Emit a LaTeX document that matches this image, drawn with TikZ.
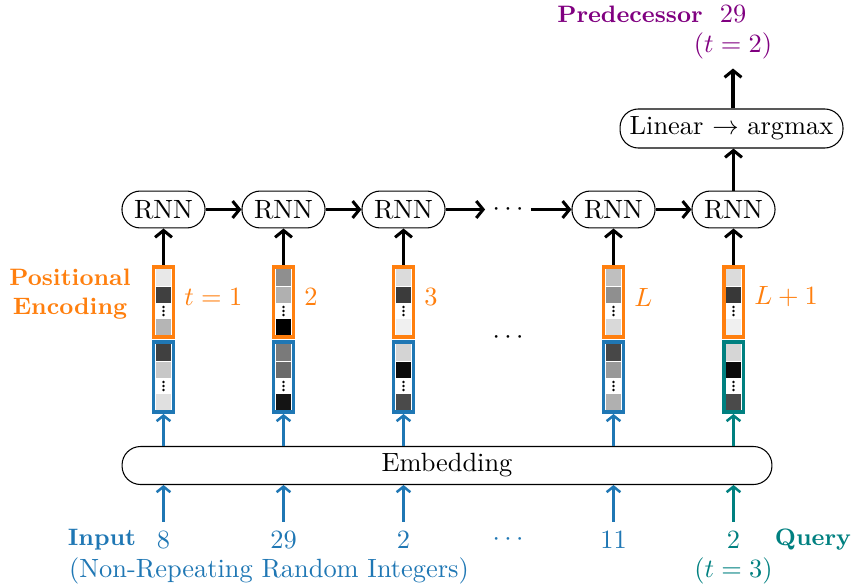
\documentclass[tikz,border=0pt]{standalone}
\usetikzlibrary{arrows.meta,calc}
\definecolor{tabblue}{RGB}{31,119,180}
\definecolor{taborange}{RGB}{255,127,14}
\definecolor{qteal}{RGB}{0,128,128}
\definecolor{predpurple}{RGB}{128,0,128}
\newcommand\vcol[7]{%
  \node[vbox, draw=#4] (#1) at (#2,#3) {};
  \begin{scope}[shift={(#2,#3)}]
    \fill[#5] (-7.5,-33) rectangle (7.5,-16.5);
    \fill[#6] (-7.5,-15.5) rectangle (7.5,1);
    \fill[#7] (-7.5,17) rectangle (7.5,33);
    \fill (0,5) circle[radius=0.5pt] (0,9) circle[radius=0.5pt] (0,13) circle[radius=0.5pt];
  \end{scope}}
\begin{document}
\begin{tikzpicture}[x=0.379pt,y=-0.379pt,
  pill/.style={rectangle, rounded corners=7pt, draw, line width=0.4pt, inner sep=0pt},
  rnnbox/.style={pill, minimum width=31.5pt, minimum height=14pt},
  vbox/.style={rectangle, inner sep=0pt, minimum width=7.4pt, minimum height=26.7pt, line width=1.33pt},
  blk/.style={-{Straight Barb[length=2.6pt,width=6.4pt]}, line width=1.15pt},
  bla/.style={-{Straight Barb[length=2.1pt,width=5.2pt]}, line width=0.95pt, tabblue},
  tea/.style={-{Straight Barb[length=2.1pt,width=5.2pt]}, line width=0.95pt, qteal},
  lab/.style={font=\small\bfseries},
  pelab/.style={text=taborange, anchor=west},
]
\useasboundingbox (0,0) rectangle (852,587);

% RNN row
\node[rnnbox] (r1) at (163.5,209.5) {RNN};
\node[rnnbox] (r2) at (283.5,209.5) {RNN};
\node[rnnbox] (r3) at (403.5,209.5) {RNN};
\node[inner xsep=2.65pt, inner ysep=0pt] (rd) at (508,209.5) {$\cdots$};
\node[rnnbox] (rL) at (613.5,209.5) {RNN};
\node[rnnbox] (rL1) at (733.5,209.5) {RNN};
\draw[blk] (r1) -- (r2);
\draw[blk] (r2) -- (r3);
\draw[blk] (r3) -- (rd);
\draw[blk] (rd) -- (rL);
\draw[blk] (rL) -- (rL1);

% Linear and output
\node[pill, minimum width=84.5pt, minimum height=14.8pt] (lin) at (731.5,128.5) {Linear $\rightarrow$ argmax};
\node[text=predpurple] (p29) at (733,14) {29};
\node[text=predpurple] (pt2) at (733,46) {$(t=2)$};
\node[lab, text=predpurple] (pred) at (630,14) {Predecessor};
\draw[blk] (rL1) -- (rL1 |- lin.south);
\draw[blk] (pt2 |- lin.north) -- (pt2.south);

% vectors
\vcol{pe1}{163.5}{302}{taborange}{black!9}{black!75}{black!29}
\vcol{em1}{163.5}{377}{tabblue}{black!75}{black!22}{black!12}
\vcol{pe2}{283.5}{302}{taborange}{black!44}{black!31}{black}
\vcol{em2}{283.5}{377}{tabblue}{black!52}{black!58}{black!92}
\vcol{pe3}{403.5}{302}{taborange}{black!14}{black!77}{black!6}
\vcol{em3}{403.5}{377}{tabblue}{black!17}{black!96}{black!71}
\vcol{peL}{613.5}{302}{taborange}{black!25}{black!44}{black!15}
\vcol{emL}{613.5}{377}{tabblue}{black!72}{black!40}{black!31}
\vcol{peL1}{733.5}{302}{taborange}{black!14}{black!78}{black!6}
\vcol{emL1}{733.5}{377}{qteal}{black!16}{black!96}{black!71}

\draw[blk] (pe1) -- (r1);
\draw[blk] (pe2) -- (r2);
\draw[blk] (pe3) -- (r3);
\draw[blk] (peL) -- (rL);
\draw[blk] (peL1) -- (rL1);

\node[pelab] (t1) at ([yshift=1.9pt]pe1.east) {$t=1$};
\node[pelab] (t2) at ([yshift=1.9pt]pe2.east) {$2$};
\node[pelab] (t3) at ([yshift=1.9pt]pe3.east) {$3$};
\node[pelab] (tL) at ([yshift=1.9pt]peL.east) {$L$};
\node[pelab] (tL1) at ([yshift=1.9pt]peL1.east) {$L+1$};
\node[lab, text=taborange, align=center] (pos) at (70,294.5) {Positional\\Encoding};
\node (md) at (508,338) {$\cdots$};

% Embedding
\node[pill, minimum width=246.3pt, minimum height=14.4pt] (emb) at (447,465.5) {Embedding};
\draw[bla] (emb.north -| em1) -- (em1.south);
\draw[bla] (emb.north -| em2) -- (em2.south);
\draw[bla] (emb.north -| em3) -- (em3.south);
\draw[bla] (emb.north -| emL) -- (emL.south);
\draw[tea] (emb.north -| emL1) -- (emL1.south);

% inputs
\node[text=tabblue] (i1) at (163.5,540) {8};
\node[text=tabblue] (i2) at (283.5,540) {29};
\node[text=tabblue] (i3) at (403.5,540) {2};
\node[text=tabblue] (id) at (508,540) {$\cdots$};
\node[text=tabblue] (iL) at (613.5,540) {11};
\node[text=qteal] (iL1) at (733.5,540) {2};
\node[lab, text=tabblue] (inp) at (102,540) {Input};
\node[lab, text=qteal] (qry) at (813,540) {Query};
\node[text=tabblue] (nr) at (269,571) {(Non-Repeating Random Integers)};
\node[text=qteal] (qt) at (733.5,571) {$(t=3)$};
\draw[bla] (i1) -- (i1 |- emb.south);
\draw[bla] (i2) -- (i2 |- emb.south);
\draw[bla] (i3) -- (i3 |- emb.south);
\draw[bla] (iL) -- (iL |- emb.south);
\draw[tea] (iL1) -- (iL1 |- emb.south);
\end{tikzpicture}
\end{document}
